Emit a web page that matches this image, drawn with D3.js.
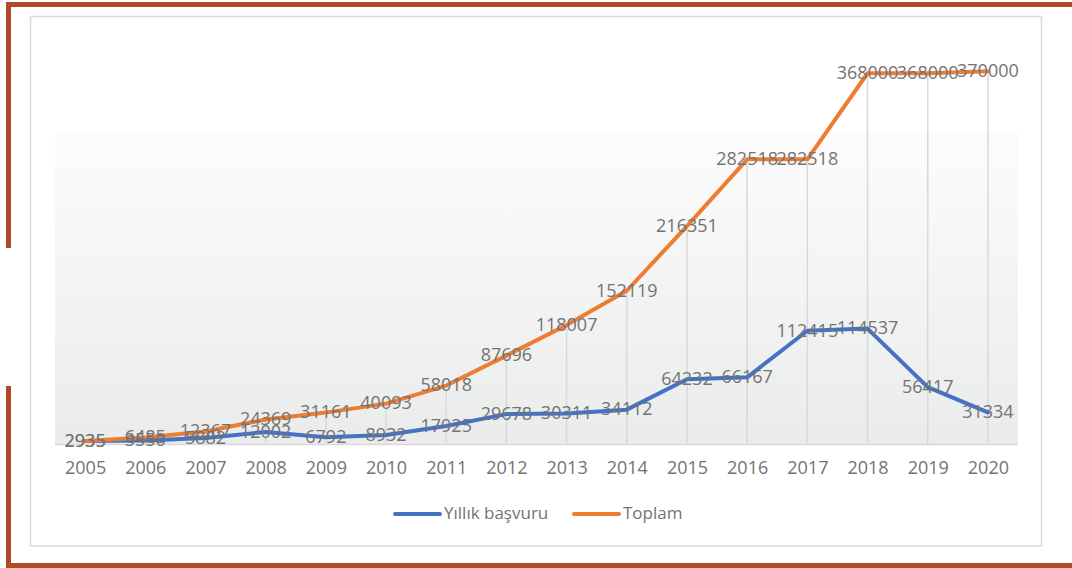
<!DOCTYPE html>
<html>
<head>
<meta charset="utf-8">
<script src="https://cdn.jsdelivr.net/npm/d3@7"></script>
<style>
  body { margin: 0; background: #fff; }
  #wrapper text { font-family: "Open Sans", sans-serif; fill: #737373; }
</style>
</head>
<body>
<div id="wrapper"></div>
<script>
// data
const years = ["2005", "2006", "2007", "2008", "2009", "2010", "2011", "2012",
  "2013", "2014", "2015", "2016", "2017", "2018", "2019", "2020"];
const yillik = [2935, 3550, 5882, 12002, 6792, 8932, 17925, 29678,
  30311, 34112, 64232, 66167, 112415, 114537, 56417, 31334];
const toplam = [2935, 6485, 12367, 24369, 31161, 40093, 58018, 87696,
  118007, 152119, 216351, 282518, 282518, 368000, 368000, 370000];
const seriesNames = ["Yıllık başvuru", "Toplam"];
const seriesColors = ["#4472c4", "#ed7d31"];

function drawChart() {
  // 1. dimensions
  let dimensions = {
    width: 1072,
    height: 568,
    margin: { top: 41, right: 54, bottom: 124, left: 55 },
  };
  dimensions.boundedWidth =
    dimensions.width - dimensions.margin.left - dimensions.margin.right;
  dimensions.boundedHeight =
    dimensions.height - dimensions.margin.top - dimensions.margin.bottom;

  // 2. canvas
  const wrapper = d3
    .select("#wrapper")
    .append("svg")
    .attr("width", dimensions.width)
    .attr("height", dimensions.height);

  // page frame (slide border + chart box)
  const frameColor = "#ae4b27";
  wrapper.append("rect").attr("x", 6).attr("y", 2).attr("width", 1066).attr("height", 5).attr("fill", frameColor);
  wrapper.append("rect").attr("x", 6).attr("y", 2).attr("width", 5).attr("height", 246).attr("fill", frameColor);
  wrapper.append("rect").attr("x", 6).attr("y", 386).attr("width", 5).attr("height", 182).attr("fill", frameColor);
  wrapper.append("rect").attr("x", 6).attr("y", 563).attr("width", 1066).attr("height", 5).attr("fill", frameColor);
  wrapper.append("rect")
    .attr("x", 30.5).attr("y", 16.5).attr("width", 1011).attr("height", 529.5)
    .attr("fill", "#fff").attr("stroke", "#d9d9d9").attr("stroke-width", 1.5);

  const defs = wrapper.append("defs");
  const grad = defs.append("linearGradient")
    .attr("id", "plotFill").attr("x1", 0).attr("y1", 0).attr("x2", 0).attr("y2", 1);
  grad.append("stop").attr("offset", "0%").attr("stop-color", "#ffffff");
  grad.append("stop").attr("offset", "22.8%").attr("stop-color", "#ffffff");
  grad.append("stop").attr("offset", "23%").attr("stop-color", "#fcfcfc");
  grad.append("stop").attr("offset", "100%").attr("stop-color", "#eaebeb");

  const bounds = wrapper
    .append("g")
    .style("transform",
      `translate(${dimensions.margin.left}px, ${dimensions.margin.top}px)`);

  // 3. scales
  const xScale = d3.scalePoint()
    .domain(years)
    .range([0, dimensions.boundedWidth])
    .padding(0.5);

  const yScale = d3.scaleLinear()
    .domain([0, 400000])
    .range([dimensions.boundedHeight, 0]);

  // 4. plot area
  bounds.append("rect")
    .attr("width", dimensions.boundedWidth)
    .attr("height", dimensions.boundedHeight)
    .attr("fill", "url(#plotFill)");

  // drop lines from the highest point down to the axis
  bounds.append("g").selectAll("line")
    .data(years)
    .join("line")
    .attr("x1", (d) => xScale(d))
    .attr("x2", (d) => xScale(d))
    .attr("y1", (d, i) => yScale(Math.max(yillik[i], toplam[i])))
    .attr("y2", dimensions.boundedHeight)
    .attr("stroke", "#d9d9d9")
    .attr("stroke-width", 1.5);

  // x axis
  const xAxisGenerator = d3.axisBottom(xScale).tickSize(0).tickPadding(17);
  const xAxis = bounds.append("g")
    .style("transform", `translateY(${dimensions.boundedHeight}px)`)
    .call(xAxisGenerator);
  xAxis.select(".domain")
    .attr("d", `M0,0.5H${dimensions.boundedWidth}`)
    .attr("stroke", "#d9d9d9")
    .attr("stroke-width", 1.5);
  xAxis.selectAll(".tick text")
    .attr("font-size", 18)
    .attr("font-family", null);

  // 5. lines
  const allSeries = [yillik, toplam];
  const lineGenerator = d3.line()
    .x((d, i) => xScale(years[i]))
    .y((d) => yScale(d));

  bounds.append("g").selectAll("path")
    .data(allSeries)
    .join("path")
    .attr("d", lineGenerator)
    .attr("fill", "none")
    .attr("stroke", (d, i) => seriesColors[i])
    .attr("stroke-width", 4)
    .attr("stroke-linejoin", "round")
    .attr("stroke-linecap", "round");

  // data labels, centered on the points (they overlap, as in the original)
  allSeries.forEach((values) => {
    bounds.append("g").selectAll("text")
      .data(values)
      .join("text")
      .attr("x", (d, i) => xScale(years[i]))
      .attr("y", (d) => yScale(d) + 1)
      .attr("text-anchor", "middle")
      .attr("dominant-baseline", "middle")
      .attr("font-size", 18)
      .text((d) => d);
  });

  // 6. legend
  const legend = wrapper.append("g")
    .style("transform", "translate(395px, 514px)");
  const legendOffsets = [0, 179];
  const items = legend.selectAll("g")
    .data(seriesNames)
    .join("g")
    .attr("transform", (d, i) => `translate(${legendOffsets[i]},0)`);
  items.append("line")
    .attr("x1", 0).attr("x2", 45)
    .attr("stroke", (d, i) => seriesColors[i])
    .attr("stroke-width", 4)
    .attr("stroke-linecap", "round");
  items.append("text")
    .attr("x", 49)
    .attr("dominant-baseline", "middle")
    .attr("font-size", 17)
    .text((d) => d);
}
drawChart();
</script>
</body>
</html>
